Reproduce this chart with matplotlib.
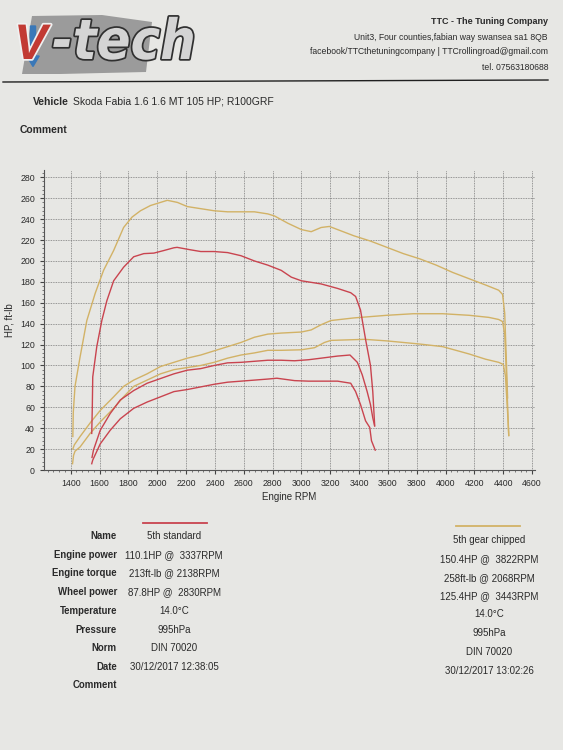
import numpy as np
import matplotlib
matplotlib.use("Agg")
import matplotlib.pyplot as plt
from matplotlib.patches import Polygon, FancyArrow
import matplotlib.patheffects as pe

plt.rcParams['font.family'] = ['Liberation Sans', 'DejaVu Sans']

# --- dyno data (rpm, value) ---
chip_torque_rpm = [1415, 1418, 1430, 1465, 1512, 1570, 1628, 1698, 1767, 1826, 1884, 1953,
                   2023, 2070, 2140, 2209, 2302, 2395, 2488, 2581, 2674, 2767, 2814, 2907,
                   3000, 3068, 3137, 3194, 3251, 3365, 3479, 3593, 3707, 3821, 3935, 4049,
                   4163, 4277, 4368, 4395, 4410, 4420, 4430]
chip_torque = [32, 55, 80, 108, 143, 169, 191, 210, 232, 242, 248, 253,
               256, 258, 256, 252, 250, 248, 247, 247, 247, 245, 243, 236,
               230, 228, 232, 233, 230, 224, 219, 213, 207, 202, 196, 189,
               183, 177, 172, 168, 150, 110, 69]

chip_power_rpm = [1415, 1425, 1465, 1535, 1605, 1698, 1767, 1837, 1930, 2023, 2116, 2209,
                  2302, 2395, 2488, 2581, 2674, 2767, 2860, 3000, 3068, 3137, 3205, 3365,
                  3593, 3775, 3980, 4163, 4300, 4368, 4395, 4410, 4425, 4438]
chip_power = [20, 24, 32, 45, 57, 70, 80, 86, 92, 99, 103, 107,
              110, 114, 118, 122, 127, 130, 131, 132, 134, 139, 143, 145.5,
              148, 149.5, 149.5, 148, 146, 144, 142, 130, 80, 33]

chip_wheel_rpm = [1413, 1420, 1430, 1465, 1535, 1605, 1698, 1767, 1837, 1930, 2023, 2116,
                  2209, 2302, 2395, 2488, 2581, 2674, 2767, 2860, 3000, 3091, 3160, 3205,
                  3440, 3593, 3821, 3980, 4163, 4277, 4368, 4400, 4415, 4430, 4438]
chip_wheel = [6, 14, 18, 22, 35, 46, 59, 70, 80, 86, 92, 96,
              98, 100, 103, 107, 110, 112, 114.5, 114.5, 115, 117, 122, 124,
              125, 123.5, 120.5, 118, 111, 106, 103, 101, 90, 55, 33]

std_torque_rpm = [1546, 1550, 1553, 1581, 1616, 1651, 1698, 1767, 1837, 1907, 1977, 2047,
                  2116, 2138, 2233, 2302, 2395, 2488, 2581, 2674, 2767, 2860, 2930, 3000,
                  3137, 3251, 3342, 3376, 3410, 3445, 3479, 3495, 3508]
std_torque = [35, 60, 89, 118, 143, 162, 181, 194, 204, 207, 207.5, 210,
              212.6, 213, 210.6, 209, 209, 208, 205, 200, 196, 191, 184.5, 181,
              178, 173.7, 169.6, 166, 153, 125, 100, 75, 43]

std_power_rpm = [1548, 1558, 1605, 1674, 1744, 1837, 1930, 2023, 2116, 2209, 2302, 2395,
                 2488, 2581, 2674, 2767, 2860, 2953, 3050, 3137, 3251, 3337, 3388, 3422,
                 3456, 3479, 3495, 3508]
std_power = [12, 19, 38, 54, 67, 76, 83, 87.5, 92, 95.5, 97, 100,
             102.5, 103, 104, 105, 105, 104.5, 105.5, 107, 109, 110, 103, 91,
             75, 62.6, 50, 42]

std_wheel_rpm = [1546, 1553, 1605, 1674, 1744, 1837, 1930, 2023, 2116, 2209, 2302, 2395,
                 2488, 2581, 2674, 2767, 2830, 2953, 3050, 3137, 3251, 3342, 3376, 3410,
                 3445, 3474, 3486, 3512]
std_wheel = [6, 9.5, 25, 38, 49, 59, 65, 70, 75, 77, 79.5, 82,
             84, 85, 86, 87, 87.8, 85.5, 85, 85, 85, 83, 75, 62.6,
             47, 40.7, 28, 19]

# --- table text ---
row_labels = ['Name', 'Engine power', 'Engine torque', 'Wheel power', 'Temperature',
              'Pressure', 'Norm', 'Date', 'Comment']
std_values = ['5th standard', '110.1HP @  3337RPM', '213ft-lb @ 2138RPM', '87.8HP @  2830RPM',
              '14.0°C', '995hPa', 'DIN 70020', '30/12/2017 12:38:05']
chip_values = ['5th gear chipped', '150.4HP @  3822RPM', '258ft-lb @ 2068RPM', '125.4HP @  3443RPM',
               '14.0°C', '995hPa', 'DIN 70020', '30/12/2017 13:02:26']

header_lines = ['TTC - The Tuning Company',
                'Unit3, Four counties,fabian way swansea sa1 8QB',
                'facebook/TTCthetuningcompany | TTCrollingroad@gmail.com',
                'tel. 07563180688']

RED = '#c9444f'
GOLD = '#d2b266'
PAPER = '#e7e7e4'
INK = '#2a2a2a'

W, H = 563, 750
fig = plt.figure(figsize=(5.63, 7.5), dpi=100, facecolor=PAPER)


def fx(x):
    return x / W


def fy(y):
    return 1 - y / H


# logo
logo_box = Polygon([(fx(32), fy(16)), (fx(102), fy(15)), (fx(152), fy(22)), (fx(146), fy(72)),
                    (fx(60), fy(74)), (fx(22), fy(74))],
                   closed=True, transform=fig.transFigure, facecolor='#8e8e8e',
                   edgecolor='none', alpha=0.85)
fig.patches.append(logo_box)
fig.text(fx(14), fy(46), 'V', fontsize=36, fontweight='bold', style='italic', color='#c23a33',
         va='center', ha='left',
         path_effects=[pe.withStroke(linewidth=2.5, foreground='#f0f0f0')])
fig.text(fx(52), fy(44), '-tech', fontsize=40, fontweight='bold', style='italic', color='#d4d4d4',
         va='center', ha='left', family='DejaVu Sans', fontstretch='condensed',
         path_effects=[pe.withStroke(linewidth=2.5, foreground='#303030')])
fig.patches.append(FancyArrow(fx(33), fy(26), 0, -(30 / H), width=0.009, head_width=0.022,
                              head_length=0.014, transform=fig.transFigure,
                              color='#3a78b8'))

# header block
header_y = [21, 37, 52, 67]
for i, (txt, yy) in enumerate(zip(header_lines, header_y)):
    fig.text(fx(548), fy(yy), txt, ha='right', va='center', fontsize=6.5 if i == 0 else 6.2,
             fontweight='bold' if i == 0 else 'normal', color=INK)
fig.add_artist(plt.Line2D([fx(3), fx(548)], [fy(82), fy(80)], transform=fig.transFigure,
                          color='#202020', lw=1.0))

fig.text(fx(33), fy(102), 'Vehicle', fontsize=7.5, fontweight='bold', va='center', color=INK)
fig.text(fx(73), fy(102), 'Skoda Fabia 1.6 1.6 MT 105 HP; R100GRF', fontsize=7.5, va='center',
         color=INK)
fig.text(fx(20), fy(130), 'Comment', fontsize=7.5, fontweight='bold', va='center', color=INK)

# chart
ax = fig.add_axes([fx(44), fy(470), fx(535) - fx(44), (470 - 170) / H])
ax.set_facecolor(PAPER)
for r, v in [(chip_torque_rpm, chip_torque), (chip_power_rpm, chip_power), (chip_wheel_rpm, chip_wheel)]:
    ax.plot(r, v, color=GOLD, lw=1.0)
for r, v in [(std_torque_rpm, std_torque), (std_power_rpm, std_power), (std_wheel_rpm, std_wheel)]:
    ax.plot(r, v, color=RED, lw=1.0)

ax.set_xlim(1215, 4620)
ax.set_ylim(0, 287)
ax.set_xticks(np.arange(1400, 4601, 200))
ax.set_yticks(np.arange(0, 281, 20))
ax.set_xticks(np.arange(1240, 4620, 40), minor=True)
ax.set_yticks(np.arange(0, 285, 4), minor=True)
ax.grid(True, which='major', color='#7a7a7a', linestyle=(0, (1, 1)), lw=0.6)
ax.tick_params(axis='both', which='major', labelsize=6.3, colors='#444444', length=3)
ax.tick_params(axis='both', which='minor', length=1.5, colors='#666666')
ax.tick_params(axis='both', labelcolor=INK)
for s in ['top', 'right']:
    ax.spines[s].set_visible(False)
for s in ['left', 'bottom']:
    ax.spines[s].set_color('#555555')
    ax.spines[s].set_linewidth(0.8)
ax.set_xlabel('Engine RPM', fontsize=7, color=INK, labelpad=3)
ax.set_ylabel('HP, ft-lb', fontsize=7, color=INK, labelpad=4)

# results table
label_y = [536, 555, 573, 592, 611, 630, 648, 667, 685]
for lab, yy in zip(row_labels, label_y):
    fig.text(fx(117), fy(yy), lab, ha='right', va='center', fontsize=6.9, fontweight='bold',
             color=INK)
for val, yy in zip(std_values, label_y):
    fig.text(fx(174), fy(yy), val, ha='center', va='center', fontsize=7, color=INK)
chip_y = [540, 559, 578, 596, 614, 633, 652, 671]
for val, yy in zip(chip_values, chip_y):
    fig.text(fx(489), fy(yy), val, ha='center', va='center', fontsize=7, color=INK)
fig.add_artist(plt.Line2D([fx(143), fx(207)], [fy(523), fy(523)], transform=fig.transFigure,
                          color=RED, lw=1.3))
fig.add_artist(plt.Line2D([fx(456), fx(520)], [fy(526), fy(526)], transform=fig.transFigure,
                          color=GOLD, lw=1.3))

fig.savefig('out.png', dpi=100, facecolor=PAPER)
